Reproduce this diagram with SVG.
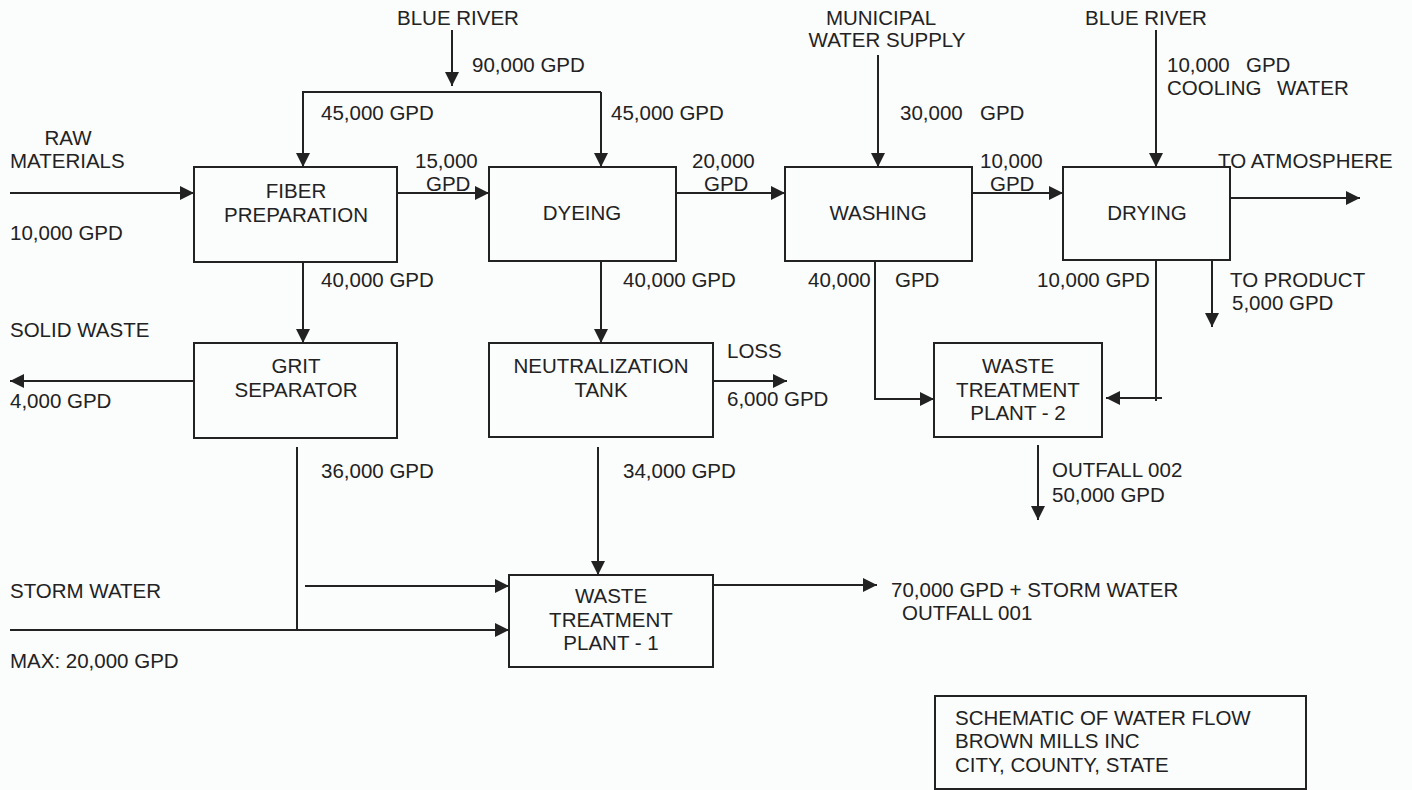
<svg xmlns="http://www.w3.org/2000/svg" width="1412" height="790" viewBox="0 0 1412 790">
<style>
text{font-family:"Liberation Sans",Arial,sans-serif;font-size:20.5px;fill:#222}
.c{text-anchor:middle}
.box{fill:none;stroke:#222;stroke-width:2}
.ln{fill:none;stroke:#222;stroke-width:2}
.ar{fill:none;stroke:#222;stroke-width:2;marker-end:url(#ah)}
</style>
<defs>
<marker id="ah" markerUnits="userSpaceOnUse" markerWidth="14" markerHeight="14" refX="14" refY="7" orient="auto">
<path d="M0,0 L14,7 L0,14 z" fill="#222"/>
</marker>
</defs>
<rect width="1412" height="790" fill="#fbfcfc"/>

<g id="connectors">
<path class="ar" d="M10,193 H194"/>
<path class="ar" d="M452,30 V86"/>
<path class="ar" d="M601,92 H303 V167"/>
<path class="ar" d="M601,92 V167"/>
<path class="ar" d="M397,193 H489"/>
<path class="ar" d="M676,193 H785"/>
<path class="ar" d="M878,55 V167"/>
<path class="ar" d="M972,193 H1063"/>
<path class="ar" d="M1156,30 V167"/>
<path class="ar" d="M1230,198 H1360"/>
<path class="ar" d="M1212,261 V327"/>
<path class="ln" d="M1156,261 V401"/>
<path class="ar" d="M1162,398 H1106"/>
<path class="ar" d="M875,261 V399 H934"/>
<path class="ar" d="M1038,445 V520"/>
<path class="ar" d="M303,262 V343"/>
<path class="ar" d="M194,381 H10"/>
<path class="ln" d="M297,447 V630"/>
<path class="ar" d="M10,630 H509"/>
<path class="ar" d="M305,586 H509"/>
<path class="ar" d="M601,261 V343"/>
<path class="ar" d="M713,381 H787"/>
<path class="ar" d="M598,447 V575"/>
<path class="ar" d="M713,585 H877"/>
</g>

<g id="fiber-preparation">
<rect class="box" x="194" y="167" width="203" height="95"/>
<text class="c" x="296" y="198">FIBER</text>
<text class="c" x="296" y="222">PREPARATION</text>
</g>
<g id="dyeing">
<rect class="box" x="489" y="167" width="187" height="94"/>
<text class="c" x="582" y="220">DYEING</text>
</g>
<g id="washing">
<rect class="box" x="785" y="167" width="187" height="94"/>
<text class="c" x="878" y="220">WASHING</text>
</g>
<g id="drying">
<rect class="box" x="1063" y="167" width="167" height="93"/>
<text class="c" x="1147" y="220">DRYING</text>
</g>
<g id="grit-separator">
<rect class="box" x="194" y="343" width="203" height="95"/>
<text class="c" x="296" y="373">GRIT</text>
<text class="c" x="296" y="397">SEPARATOR</text>
</g>
<g id="neutralization-tank">
<rect class="box" x="489" y="343" width="224" height="94"/>
<text class="c" x="601" y="373">NEUTRALIZATION</text>
<text class="c" x="601" y="397">TANK</text>
</g>
<g id="waste-treatment-plant-1">
<rect class="box" x="509" y="575" width="204" height="92"/>
<text class="c" x="611" y="603">WASTE</text>
<text class="c" x="611" y="627">TREATMENT</text>
<text class="c" x="611" y="650">PLANT - 1</text>
</g>
<g id="waste-treatment-plant-2">
<rect class="box" x="934" y="343" width="168" height="94"/>
<text class="c" x="1018" y="373">WASTE</text>
<text class="c" x="1018" y="397">TREATMENT</text>
<text class="c" x="1018" y="420">PLANT - 2</text>
</g>
<g id="title-block">
<rect class="box" x="935" y="696" width="371" height="93"/>
<text x="955" y="725">SCHEMATIC OF WATER FLOW</text>
<text x="955" y="748">BROWN MILLS INC</text>
<text x="955" y="772">CITY, COUNTY, STATE</text>
</g>

<g id="labels">
<text class="c" x="68" y="145">RAW</text>
<text x="10" y="168">MATERIALS</text>
<text x="10" y="240">10,000 GPD</text>
<text x="397" y="25">BLUE RIVER</text>
<text x="472" y="72">90,000 GPD</text>
<text x="321" y="120">45,000 GPD</text>
<text x="611" y="120">45,000 GPD</text>
<text x="415" y="168">15,000</text>
<text x="426" y="191">GPD</text>
<text x="692" y="168">20,000</text>
<text x="704" y="191">GPD</text>
<text class="c" x="881" y="25">MUNICIPAL</text>
<text class="c" x="887" y="47">WATER SUPPLY</text>
<text x="900" y="120">30,000</text>
<text x="980" y="120">GPD</text>
<text x="980" y="168">10,000</text>
<text x="990" y="191">GPD</text>
<text x="1085" y="25">BLUE RIVER</text>
<text x="1167" y="72">10,000</text>
<text x="1246" y="72">GPD</text>
<text x="1167" y="95">COOLING</text>
<text x="1277" y="95">WATER</text>
<text x="1218" y="168">TO ATMOSPHERE</text>
<text x="1037" y="287">10,000 GPD</text>
<text x="1230" y="287">TO PRODUCT</text>
<text x="1232" y="310">5,000 GPD</text>
<text x="808" y="287">40,000</text>
<text x="895" y="287">GPD</text>
<text x="1052" y="477">OUTFALL 002</text>
<text x="1052" y="502">50,000 GPD</text>
<text x="321" y="287">40,000 GPD</text>
<text x="10" y="337">SOLID WASTE</text>
<text x="10" y="408">4,000 GPD</text>
<text x="321" y="478">36,000 GPD</text>
<text x="623" y="287">40,000 GPD</text>
<text x="727" y="358">LOSS</text>
<text x="727" y="406">6,000 GPD</text>
<text x="623" y="478">34,000 GPD</text>
<text x="10" y="598">STORM WATER</text>
<text x="10" y="668">MAX: 20,000 GPD</text>
<text x="891" y="597">70,000 GPD + STORM WATER</text>
<text x="902" y="620">OUTFALL 001</text>
</g>
</svg>
